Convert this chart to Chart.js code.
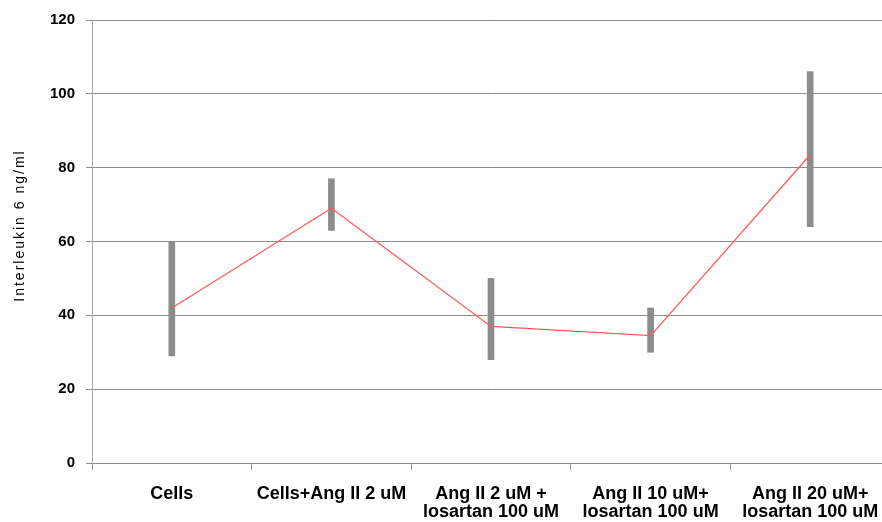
<!DOCTYPE html>
<html>
<head>
<meta charset="utf-8">
<script src="https://cdn.jsdelivr.net/npm/chart.js@4/dist/chart.umd.min.js"></script>
<style>
html,body{margin:0;padding:0;overflow:hidden;background:#fff;}
#wrap{width:890px;height:522px;}
</style>
</head>
<body>
<div id="wrap"><canvas id="c" width="890" height="522"></canvas></div>
<script>
const categories = [["Cells"], ["Cells+Ang II 2 uM"], ["Ang II 2 uM +", "losartan 100 uM"], ["Ang II 10 uM+", "losartan 100 uM"], ["Ang II 20 uM+", "losartan 100 uM"]];
const meanValues = [42, 69, 37, 34.5, 83.5];
const errLow = [29, 63, 28, 30, 64];
const errHigh = [60, 77, 50, 42, 106];
const yTicks = [0, 20, 40, 60, 80, 100, 120];

const errRanges = errLow.map((lo, i) => [lo, errHigh[i]]);

const titleTweak = {
  id: 'titleTweak',
  beforeDraw(chart) {
    const s = chart.scales.y;
    if (!s._tweaked) {
      const orig = s.drawTitle.bind(s);
      s.drawTitle = function () {
        const ctx = chart.ctx;
        ctx.save();
        ctx.letterSpacing = '2px';
        ctx.translate(0, -16);
        orig();
        ctx.restore();
      };
      s._tweaked = true;
    }
  }
};

new Chart(document.getElementById('c'), {
  type: 'bar',
  data: {
    labels: categories,
    datasets: [
      {
        type: 'line',
        data: meanValues,
        borderColor: '#ff5a5a',
        borderWidth: 1.3,
        pointRadius: 0,
        tension: 0,
        fill: false,
        order: 0
      },
      {
        type: 'bar',
        data: errRanges,
        backgroundColor: '#8c8c8c',
        barThickness: 6,
        borderSkipped: false,
        order: 1
      }
    ]
  },
  plugins: [titleTweak],
  options: {
    responsive: false,
    animation: false,
    devicePixelRatio: 1,
    layout: { padding: { top: 20, right: 0, left: 0, bottom: 0 } },
    plugins: { legend: { display: false }, tooltip: { enabled: false } },
    scales: {
      x: {
        offset: true,
        grid: { display: true, offset: true, drawOnChartArea: false, drawTicks: true, tickLength: 7, color: '#999999', lineWidth: 1 },
        border: { display: true, color: '#8c8c8c' },
        ticks: {
          color: '#000',
          maxRotation: 0, minRotation: 0, autoSkip: false,
          padding: 15,
          font: { family: "'Liberation Sans', Arial", size: 18, weight: 'bold', lineHeight: 1.0 }
        },
        afterFit: (s) => { s.height = 59; s.paddingLeft = 0; s.paddingRight = 0; }
      },
      y: {
        min: 0, max: 120,
        afterBuildTicks: (s) => { s.ticks = yTicks.map(v => ({ value: v })); },
        grid: { color: '#8c8c8c', lineWidth: 1, tickLength: 6, drawTicks: true },
        border: { display: true, color: '#a6a6a6' },
        ticks: {
          color: '#000',
          padding: 11,
          font: { family: "'Liberation Sans', Arial", size: 15, weight: 'bold' }
        },
        title: {
          display: true,
          text: 'Interleukin 6 ng/ml',
          color: '#000',
          padding: { top: 12, bottom: 0 },
          font: { family: "'Liberation Sans', Arial", size: 14, weight: 'normal' }
        },
        afterFit: (s) => { s.width = 92; }
      }
    }
  }
});
</script>
</body>
</html>
